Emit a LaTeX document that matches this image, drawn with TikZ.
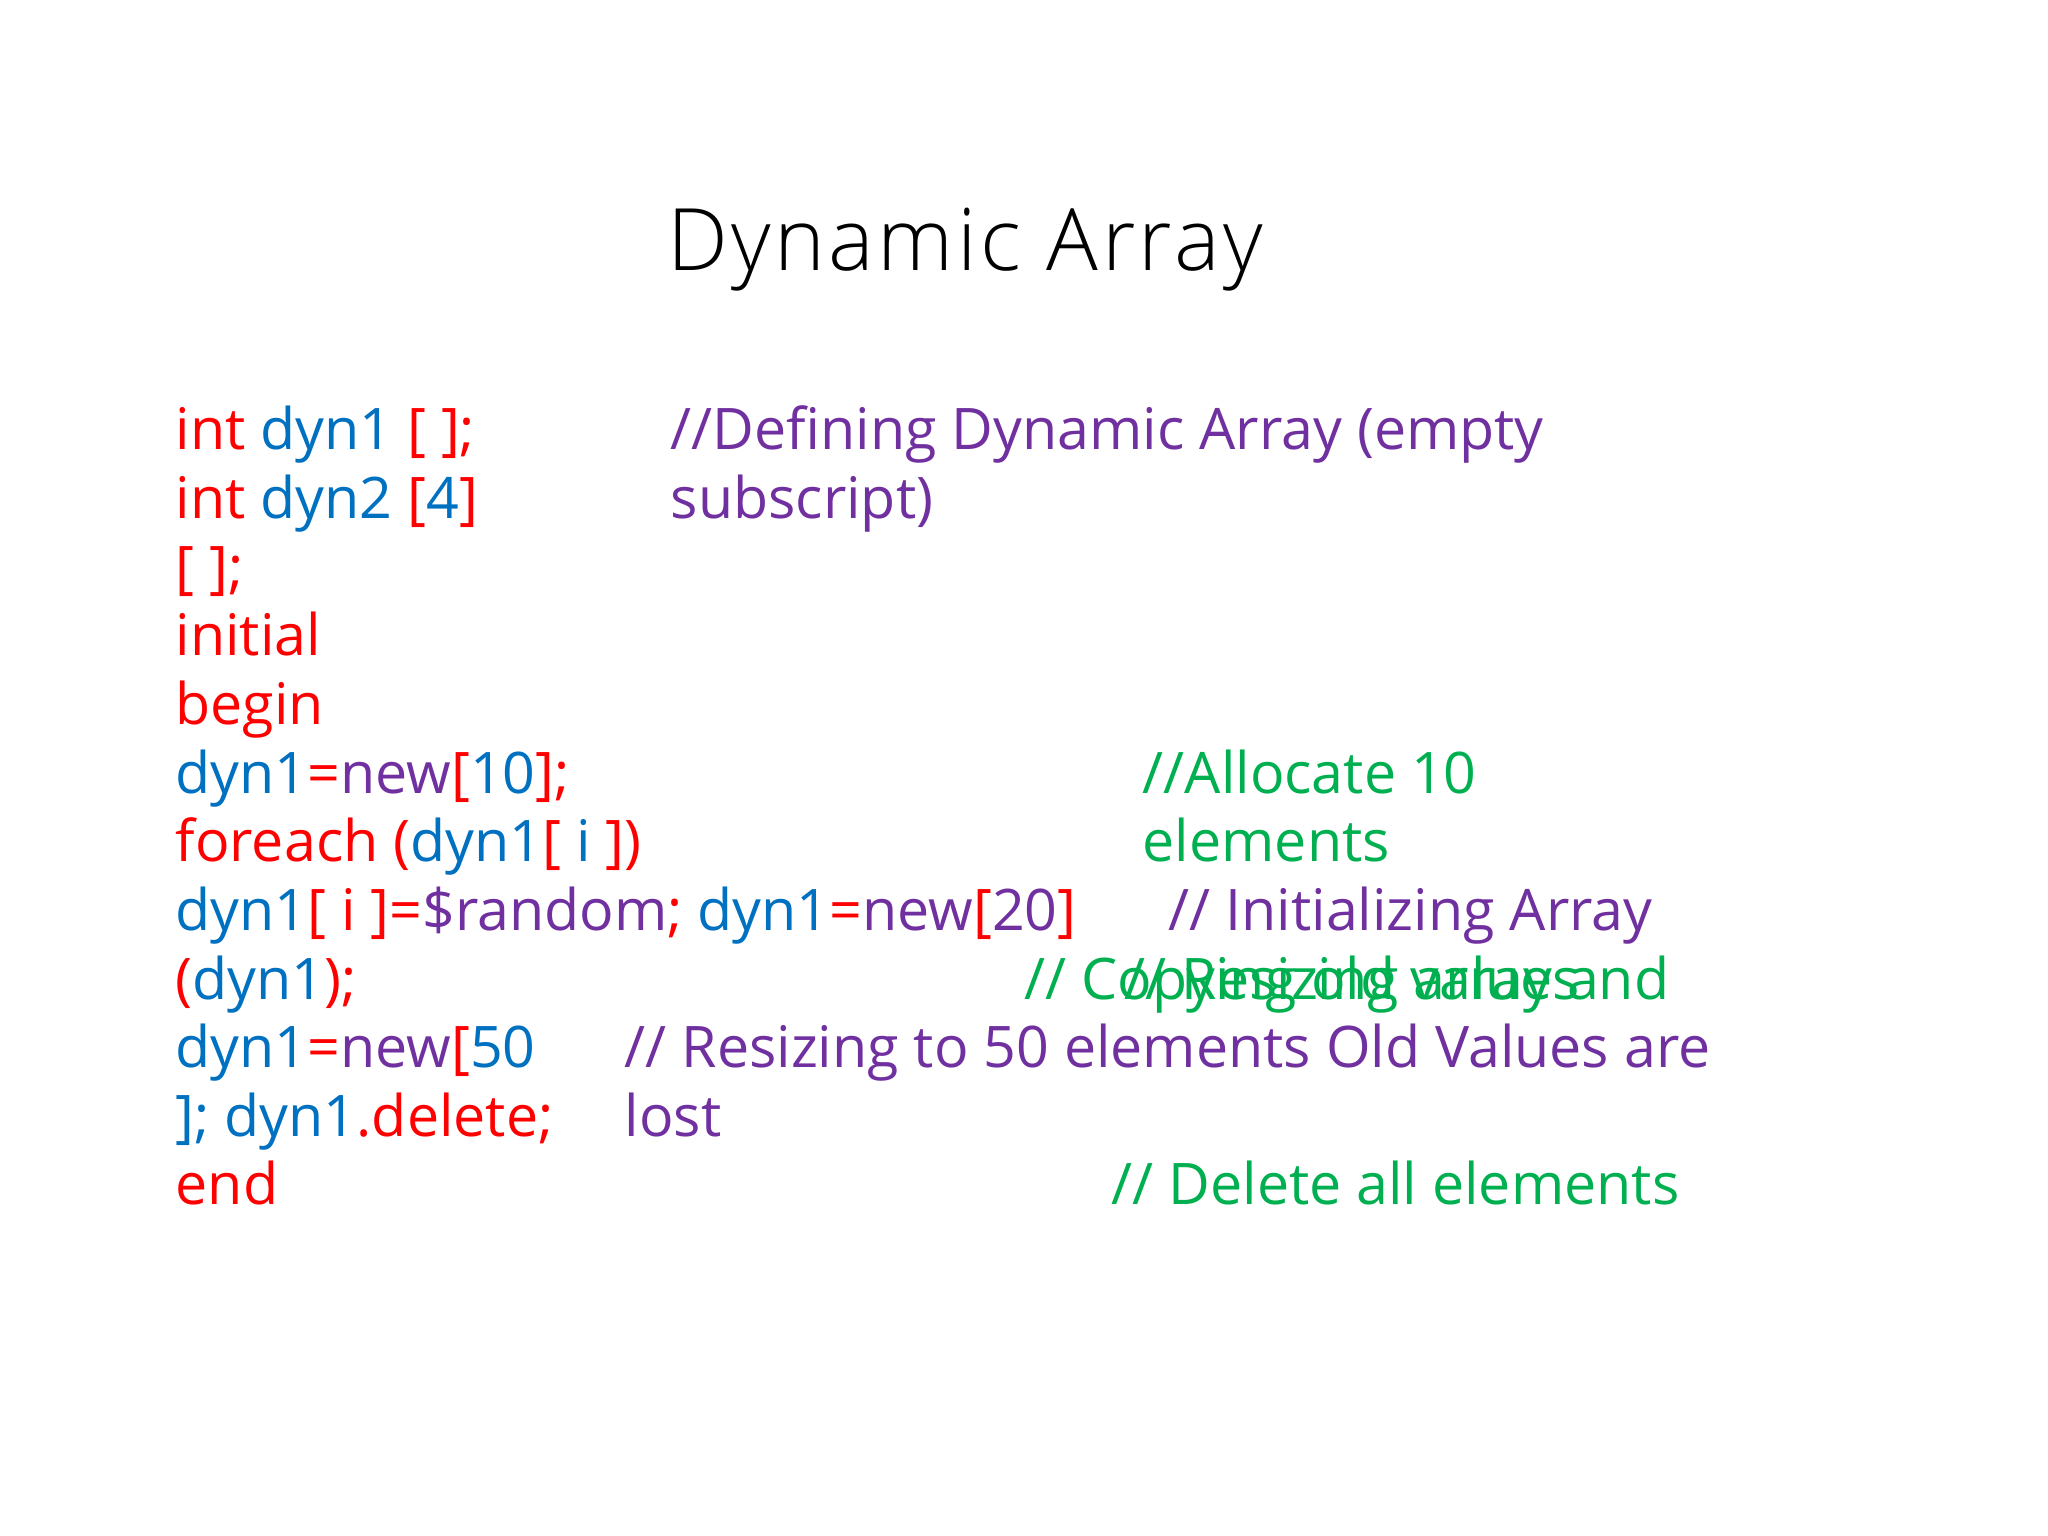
\documentclass[tikz,border=0pt]{standalone}
\usepackage{fontspec}
\setmainfont{Open Sans}
\newfontfamily\titlefont[LetterSpace=4]{Open Sans Light}
\definecolor{kwred}{HTML}{FF0000}
\definecolor{idblue}{HTML}{0070C0}
\definecolor{cmpurple}{HTML}{7030A0}
\definecolor{cmgreen}{HTML}{00B050}
\newcommand{\rd}[1]{\textcolor{kwred}{#1}}
\newcommand{\bl}[1]{\textcolor{idblue}{#1}}
\newcommand{\pu}[1]{\textcolor{cmpurple}{#1}}
\newcommand{\gr}[1]{\textcolor{cmgreen}{#1}}
\tikzset{
  code/.style={anchor=base west, inner sep=0pt, font=\fontsize{16.3}{19}\selectfont},
  title/.style={anchor=base, inner sep=0pt, font=\titlefont\fontsize{24.5}{30}\selectfont}
}
\begin{document}
\begin{tikzpicture}[x=0.01cm,y=-0.01cm]
\useasboundingbox (0,0) rectangle (2048,1536);
\node[title] (head) at (965,270) {Dynamic Array};
% code column
\node[code] (l1) at (175,449) {\rd{int}~\bl{dyn1}~\rd{[ ];}};
\node[code] (l2) at (175,518) {\rd{int}~\bl{dyn2}~\rd{[}\bl{4}\rd{]}};
\node[code] (l3) at (175,587) {\rd{[ ];}};
\node[code] (l4) at (175,655) {\rd{initial}};
\node[code] (l5) at (175,724) {\rd{begin}};
\node[code] (l6) at (175,793) {\bl{dyn1}\rd{=}\pu{new}\rd{[}\bl{10}\rd{];}};
\node[code] (l7) at (175,861) {\rd{foreach (}\bl{dyn1}\rd{[}~\bl{i}~\rd{])}};
\node[code] (l8) at (175,930) {\bl{dyn1}\rd{[ i ]=}\pu{\$random}\rd{;}~\bl{dyn1}\rd{=}\pu{new}\rd{[}\pu{20}\rd{]}};
\node[code] (l9) at (175,999) {\rd{(}\bl{dyn1}\rd{);}};
\node[code] (l10) at (175,1067) {\bl{dyn1}\rd{=}\pu{new}\rd{[}\bl{50}};
\node[code] (l11) at (175,1136) {\bl{]; dyn1}\rd{.delete;}};
\node[code] (l12) at (175,1204) {\rd{end}};
% comments
\node[code] (c1) at (670,449) {\pu{//Defining Dynamic Array (empty}};
\node[code] (c1b) at (670,518) {\pu{subscript)}};
\node[code] (c2) at (1142,793) {\gr{//Allocate 10}};
\node[code] (c2b) at (1142,861) {\gr{elements}};
\node[code] (c3) at (1168,930) {\pu{// Initializing Array}};
\node[code] (c4) at (1024,999) {\gr{// Copying old values}};
\node[code] (c5) at (1124,999) {\gr{// Resizing array and}};
\node[code] (c6) at (624,1067) {\pu{// Resizing to 50 elements Old Values are}};
\node[code] (c6b) at (624,1136) {\pu{lost}};
\node[code] (c7) at (1111,1204) {\gr{// Delete all elements}};
\end{tikzpicture}
\end{document}
